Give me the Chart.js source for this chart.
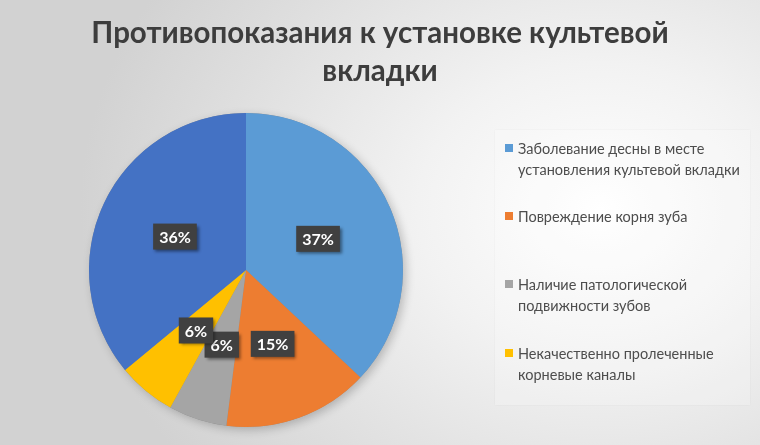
<!DOCTYPE html>
<html><head><meta charset="utf-8">
<script src="https://cdn.jsdelivr.net/npm/chart.js@4"></script>
<style>
html,body{margin:0;padding:0;width:760px;height:445px;overflow:hidden;}
#wrap{position:relative;width:760px;height:445px;
 background:radial-gradient(ellipse 520px 420px at 600px 210px,#ffffff 0%,#f2f2f2 35%,#dedede 75%,#d2d2d2 100%);}
#title{position:absolute;left:0;top:13px;width:760px;text-align:center;font-family:Lato,"Open Sans",sans-serif;font-weight:bold;font-size:29.5px;line-height:38px;color:#3d3d3d;}
#chart{position:absolute;left:0;top:0;}
#legend{position:absolute;left:495px;top:130px;width:255px;height:275px;background:rgba(255,255,255,0.2);box-shadow:0 0 2px rgba(0,0,0,0.05);}
.item{position:absolute;left:10px;font-family:Lato,"Open Sans",sans-serif;font-size:14.5px;line-height:21px;color:#4d4d4d;}
.sw{position:absolute;left:0;top:6px;width:8px;height:8px;}
.tx{margin-left:13px;}
</style></head><body>
<div id="wrap">
<canvas id="chart" width="760" height="445"></canvas>
<div id="title">Противопоказания к установке культевой<br>вкладки</div>
<div id="legend"></div>
</div>
<script>
const categories = [
 "Заболевание десны в месте установления культевой вкладки",
 "Повреждение корня зуба",
 "Наличие патологической подвижности зубов",
 "Некачественно пролеченные корневые каналы",
 ""
];
const legendLines = [
 ["Заболевание десны в месте","установления культевой вкладки"],
 ["Повреждение корня зуба"],
 ["Наличие патологической","подвижности зубов"],
 ["Некачественно пролеченные","корневые каналы"]
];
const values = [37, 15, 6, 6, 36];
const colors = ["#5B9BD5", "#ED7D31", "#A5A5A5", "#FFC000", "#4472C4"];

const labelPlugin = {
  id: 'boxLabels',
  afterDatasetsDraw(chart) {
    const ctx = chart.ctx;
    const meta = chart.getDatasetMeta(0);
    ctx.save();
    ctx.font = 'bold 16px Lato, "Open Sans", sans-serif';
    ctx.textAlign = 'center';
    ctx.textBaseline = 'middle';
    meta.data.forEach((arc, i) => {
      const p = arc.getCenterPoint();
      const txt = values[i] + '%';
      const w = ctx.measureText(txt).width + 12;
      const h = 26;
      ctx.save();
      ctx.shadowColor = 'rgba(0,0,0,0.45)';
      ctx.shadowBlur = 3;
      ctx.shadowOffsetX = 2;
      ctx.shadowOffsetY = 2;
      ctx.fillStyle = '#404040';
      ctx.fillRect(p.x - w/2, p.y - h/2, w, h);
      ctx.restore();
      ctx.fillStyle = '#ffffff';
      ctx.fillText(txt, p.x, p.y + 1);
    });
    ctx.restore();
  }
};

const shadowPlugin = {
  id: 'pieShadow',
  beforeDatasetsDraw(chart) {
    const ctx = chart.ctx;
    const arc = chart.getDatasetMeta(0).data[0];
    if (!arc) return;
    ctx.save();
    ctx.shadowColor = 'rgba(0,0,0,0.22)';
    ctx.shadowBlur = 10;
    ctx.shadowOffsetX = 3;
    ctx.shadowOffsetY = 3;
    ctx.fillStyle = '#888';
    ctx.beginPath();
    ctx.arc(arc.x, arc.y, arc.outerRadius, 0, Math.PI*2);
    ctx.fill();
    ctx.restore();
  }
};

new Chart(document.getElementById('chart'), {
  type: 'pie',
  data: {
    labels: categories,
    datasets: [{ data: values, backgroundColor: colors, borderWidth: 0 }]
  },
  options: {
    responsive: false,
    animation: false,
    layout: { padding: { left: 89, right: 357, top: 113, bottom: 18 } },
    plugins: { legend: { display: false }, tooltip: { enabled: false }, title: { display: false } }
  },
  plugins: [shadowPlugin, labelPlugin]
});

const tops = [8, 76, 144, 213];
const lg = document.getElementById('legend');
legendLines.forEach((lines, i) => {
  const d = document.createElement('div');
  d.className = 'item';
  d.style.top = tops[i] + 'px';
  d.innerHTML = '<div class="sw" style="background:' + colors[i] + '"></div><div class="tx">' + lines.join('<br>') + '</div>';
  lg.appendChild(d);
});
</script>
</body></html>
